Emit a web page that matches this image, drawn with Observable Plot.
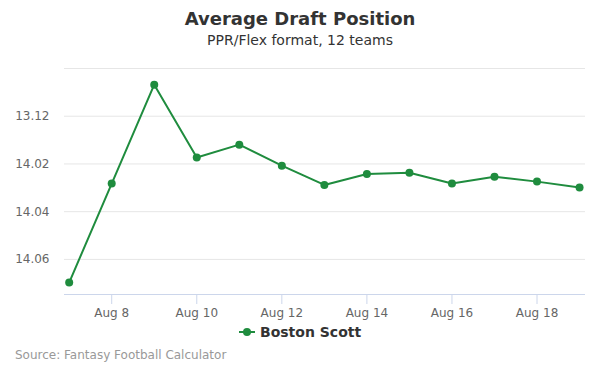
<!DOCTYPE html>
<html><head><meta charset="utf-8">
<script src="https://cdn.jsdelivr.net/npm/d3@7"></script>
<script src="https://cdn.jsdelivr.net/npm/@observablehq/plot@0.6"></script>
<style>
body{margin:0;background:#fff;font-family:"DejaVu Sans",sans-serif;}
#wrap{position:relative;width:600px;height:375px;overflow:hidden;}
.t{position:absolute;white-space:nowrap;}
</style></head><body>
<div id="wrap">
<div class="t" id="title" style="left:0;width:600px;top:8px;text-align:center;font-size:18px;font-weight:bold;color:#333;">Average Draft Position</div>
<div class="t" id="sub" style="left:0;width:600px;top:32px;text-align:center;font-size:14px;color:#333;">PPR/Flex format, 12 teams</div>
<div class="t" id="legend" style="left:238px;top:324px;font-size:14px;font-weight:bold;color:#333;display:flex;align-items:center;">
<svg width="18" height="12" style="margin-right:4px"><line x1="1" y1="6" x2="17" y2="6" stroke="#1f8c3e" stroke-width="2"/><circle cx="9" cy="6" r="4" fill="#1f8c3e"/></svg>Boston Scott</div>
<div class="t" id="src" style="left:15px;top:348px;font-size:12px;color:#999;">Source: Fantasy Football Calculator</div>
<div id="chart" style="position:absolute;left:0;top:0;"></div>
</div>
<script>
const dates = ["2019-08-07","2019-08-08","2019-08-09","2019-08-10","2019-08-11","2019-08-12","2019-08-13","2019-08-14","2019-08-15","2019-08-16","2019-08-17","2019-08-18","2019-08-19"];
const adpPick = [162.97,158.82,154.68,157.73,157.19,158.07,158.88,158.42,158.37,158.82,158.54,158.74,158.99];
const yTicks = [154,156,158,160,162];
const yTickLabels = ["","13.12","14.02","14.04","14.06"];
const xTicks = ["2019-08-08","2019-08-10","2019-08-12","2019-08-14","2019-08-16","2019-08-18"];
const xTickLabels = ["Aug 8","Aug 10","Aug 12","Aug 14","Aug 16","Aug 18"];
const seriesName = "Boston Scott";
const color = "#1f8c3e";

const parse = d3.utcParse("%Y-%m-%d");
const data = dates.map((d,i)=>({date:parse(d), pick:adpPick[i], series:seriesName}));
const xt = xTicks.map(parse);
const day = 864e5;
const d0 = parse(dates[0]), d1 = parse(dates[dates.length-1]);

const chart = Plot.plot({
  width:600, height:375,
  marginTop:68, marginBottom:81, marginLeft:64, marginRight:15,
  style:{fontFamily:"DejaVu Sans, sans-serif", fontSize:"12px", color:"#666", background:"transparent"},
  x:{type:"utc", domain:[new Date(+d0-0.11*day), new Date(+d1+0.14*day)]},
  y:{domain:[163.47,154]},
  marks:[
    Plot.gridY(yTicks,{stroke:"#e6e6e6", strokeOpacity:1}),
    Plot.axisY(yTicks,{tickSize:0, tickPadding:15, tickFormat:(d)=>yTickLabels[yTicks.indexOf(d)], fill:"#666", fontSize:12, label:null}),
    Plot.ruleY([163.47],{stroke:"#ccd6eb"}),
    Plot.axisX(xt,{tickSize:10, stroke:"#ccd6eb", tickPadding:4, tickFormat:(d)=>xTickLabels[xt.findIndex(t=>+t===+d)], fill:"#666", fontSize:12, label:null}),
    Plot.line(data,{x:"date", y:"pick", stroke:color, strokeWidth:2}),
    Plot.dot(data,{x:"date", y:"pick", fill:color, r:4})
  ]
});
document.getElementById("chart").appendChild(chart);
</script>
</body></html>
